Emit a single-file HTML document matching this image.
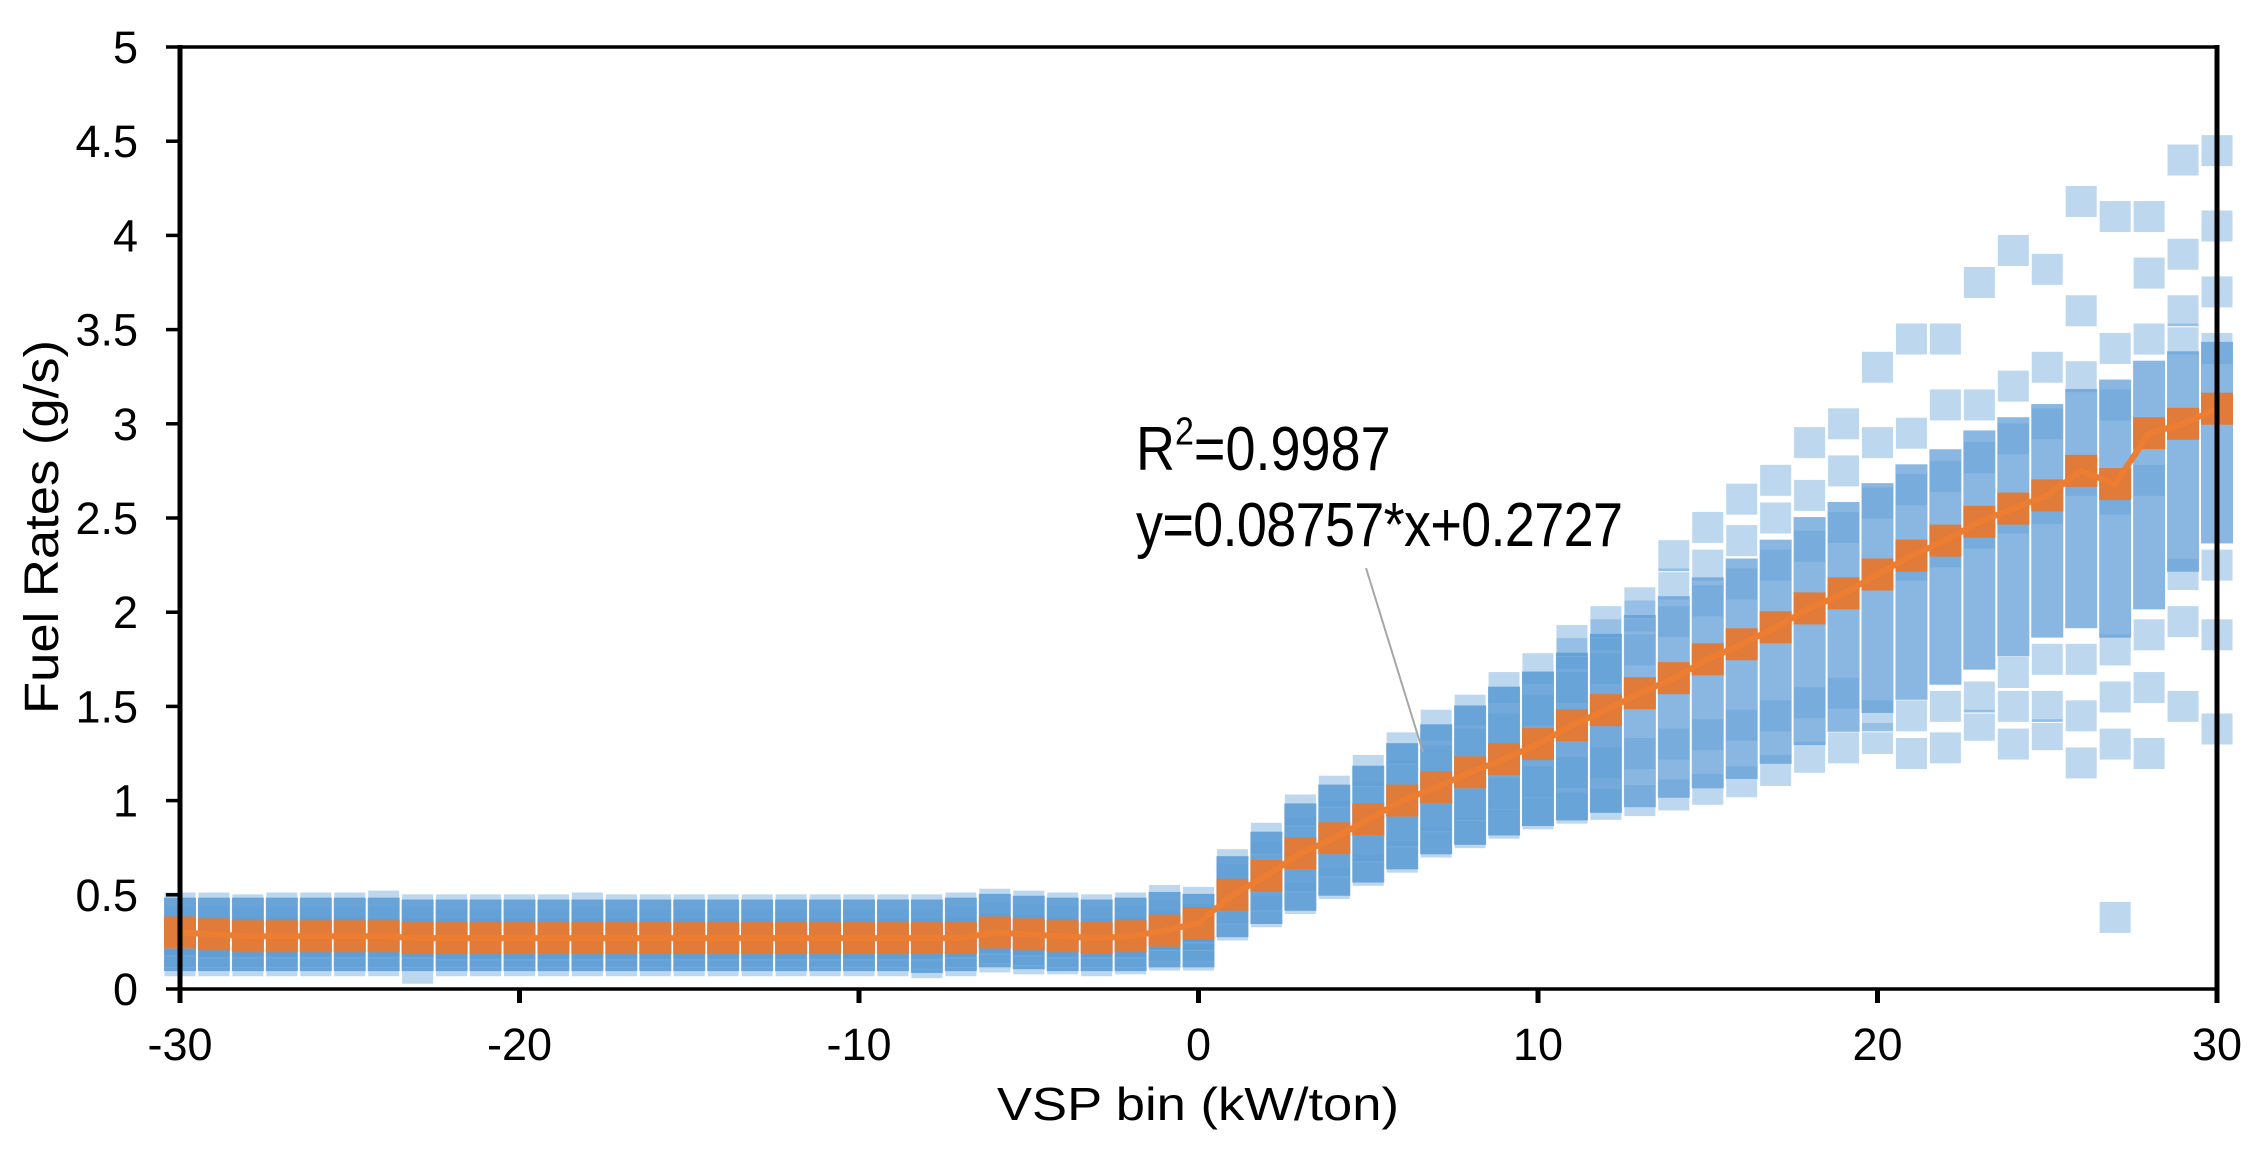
<!DOCTYPE html>
<html><head><meta charset="utf-8"><style>
html,body{margin:0;padding:0;background:#fff;}
svg{display:block;font-family:"Liberation Sans",Arial,sans-serif;}
</style></head><body>
<svg id="chart" width="2266" height="1152" viewBox="0 0 2266 1152" xmlns="http://www.w3.org/2000/svg">
<g id="blue"></g>
<g id="orange"></g>
<g id="axes"></g>
<g id="ann">
  <line x1="1366" y1="568" x2="1423" y2="752" stroke="#a6a6a6" stroke-width="2"/>
  <g transform="translate(1136,470) scale(1,1.15)">
    <text x="0" y="0" font-size="54" fill="#000">R<tspan font-size="34" dy="-22">2</tspan><tspan dy="22">=0.9987</tspan></text>
  </g>
  <g transform="translate(1136,546) scale(1,1.15)">
    <text x="0" y="0" font-size="54" fill="#000" textLength="487">y=0.08757*x+0.2727</text>
  </g>
</g>
<text transform="translate(58,527) rotate(-90)" text-anchor="middle" font-size="48" textLength="374" lengthAdjust="spacingAndGlyphs">Fuel Rates (g/s)</text>
<text x="1198" y="1120" text-anchor="middle" font-size="46" textLength="402" lengthAdjust="spacingAndGlyphs">VSP bin (kW/ton)</text>
</svg>
<script>
const bins = [-30,-29,-28,-27,-26,-25,-24,-23,-22,-21,-20,-19,-18,-17,-16,-15,-14,-13,-12,-11,-10,-9,-8,-7,-6,-5,-4,-3,-2,-1,0,1,2,3,4,5,6,7,8,9,10,11,12,13,14,15,16,17,18,19,20,21,22,23,24,25,26,27,28,29,30];
const meanRates = [0.30,0.29,0.28,0.28,0.28,0.28,0.28,0.27,0.27,0.27,0.27,0.27,0.27,0.27,0.27,0.27,0.27,0.27,0.27,0.27,0.27,0.27,0.27,0.27,0.30,0.29,0.28,0.27,0.28,0.31,0.35,0.50,0.60,0.72,0.80,0.90,1.00,1.07,1.15,1.22,1.30,1.40,1.48,1.57,1.65,1.75,1.83,1.92,2.02,2.10,2.20,2.30,2.38,2.48,2.55,2.62,2.75,2.68,2.95,3.00,3.08];
const bandLow = [0.18,0.18,0.18,0.18,0.18,0.18,0.18,0.18,0.18,0.18,0.18,0.18,0.18,0.18,0.18,0.18,0.18,0.18,0.18,0.18,0.18,0.18,0.17,0.18,0.2,0.19,0.18,0.18,0.18,0.2,0.2,0.36,0.43,0.5,0.58,0.65,0.72,0.8,0.85,0.9,0.95,0.98,1.02,1.05,1.1,1.15,1.2,1.28,1.38,1.45,1.55,1.62,1.7,1.78,1.85,1.95,2.0,1.95,2.1,2.3,2.45];
const bandHigh = [0.4,0.4,0.4,0.4,0.4,0.4,0.4,0.39,0.39,0.39,0.39,0.39,0.39,0.39,0.39,0.39,0.39,0.39,0.39,0.39,0.39,0.39,0.39,0.4,0.42,0.41,0.4,0.39,0.4,0.43,0.42,0.62,0.75,0.9,1.0,1.1,1.22,1.32,1.42,1.52,1.6,1.7,1.8,1.9,2.0,2.1,2.2,2.3,2.42,2.5,2.6,2.7,2.78,2.88,2.95,3.02,3.1,3.15,3.25,3.3,3.35];
const observedRates = [
[0.15,0.2,0.26,0.3,0.35,0.43],[0.15,0.2,0.25,0.3,0.36,0.43],[0.15,0.2,0.25,0.3,0.35,0.42],
[0.15,0.2,0.25,0.3,0.35,0.43],[0.15,0.2,0.25,0.3,0.35,0.43],[0.15,0.2,0.25,0.3,0.35,0.43],
[0.15,0.2,0.25,0.29,0.35,0.44],[0.11,0.2,0.25,0.29,0.35,0.42],[0.15,0.2,0.24,0.29,0.34,0.42],
[0.15,0.2,0.24,0.29,0.34,0.42],[0.15,0.2,0.24,0.29,0.34,0.42],[0.15,0.2,0.24,0.29,0.34,0.42],
[0.15,0.2,0.24,0.29,0.35,0.43],[0.15,0.2,0.24,0.29,0.34,0.42],[0.15,0.2,0.24,0.29,0.34,0.42],
[0.15,0.2,0.24,0.29,0.34,0.42],[0.15,0.2,0.24,0.29,0.34,0.42],[0.15,0.2,0.24,0.29,0.34,0.42],
[0.15,0.2,0.24,0.29,0.34,0.42],[0.15,0.2,0.24,0.29,0.34,0.42],[0.15,0.2,0.24,0.29,0.34,0.42],
[0.15,0.2,0.24,0.29,0.34,0.42],[0.14,0.19,0.24,0.29,0.34,0.42],[0.15,0.2,0.25,0.3,0.35,0.43],
[0.17,0.22,0.27,0.32,0.38,0.45],[0.16,0.21,0.26,0.31,0.37,0.44],[0.16,0.2,0.25,0.3,0.36,0.43],
[0.15,0.2,0.25,0.29,0.35,0.42],[0.16,0.2,0.25,0.3,0.36,0.43],[0.18,0.23,0.29,0.33,0.39,0.47],
[0.18,0.23,0.29,0.33,0.37,0.46],
[0.34,0.43,0.5,0.58,0.66],[0.41,0.5,0.6,0.7,0.8],[0.48,0.6,0.72,0.83,0.95],
[0.56,0.68,0.8,0.92,1.05],[0.63,0.76,0.9,1.02,1.16],[0.7,0.84,1.0,1.13,1.28],
[0.78,0.92,1.07,1.21,1.4],[0.83,0.98,1.15,1.3,1.48],[0.88,1.04,1.22,1.38,1.6],
[0.93,1.1,1.3,1.48,1.7],[0.96,1.15,1.4,1.6,1.78,1.85],[0.98,1.2,1.48,1.7,1.88,1.95],
[1.0,1.25,1.57,1.8,1.98,2.05],[1.03,1.3,1.65,1.95,2.15,2.3],[1.06,1.35,1.75,2.06,2.25,2.45],
[1.1,1.4,1.83,2.15,2.38,2.6],[1.16,1.45,1.92,2.25,2.5,2.7],[1.23,1.52,2.02,2.35,2.62,2.9],
[1.28,1.57,2.1,2.45,2.75,3.0],[1.33,1.45,2.2,2.58,2.9,3.3],[1.25,1.45,2.25,2.65,2.95,3.45],
[1.28,1.5,2.32,2.72,3.1,3.45],[1.4,1.55,2.42,2.82,3.1,3.75],[1.3,1.5,1.68,2.5,2.92,3.2,3.92],
[1.35,1.5,1.75,2.55,3.0,3.3,3.82],[1.2,1.45,1.75,2.7,3.25,3.6,4.18],[0.38,1.3,1.55,1.8,2.6,3.1,3.4,4.1],
[1.25,1.6,1.88,2.7,3.45,3.8,4.1],[1.5,1.95,2.2,3.45,3.6,3.9,4.4],[1.38,1.88,2.25,3.4,3.7,4.05,4.45]
];
const yTicks = [0,0.5,1,1.5,2,2.5,3,3.5,4,4.5,5];
const yTickLabels = ["0","0.5","1","1.5","2","2.5","3","3.5","4","4.5","5"];
const xTicks = [-30,-20,-10,0,10,20,30];
const xTickLabels = ["-30","-20","-10","0","10","20","30"];

const L=180,R=2217,T=47,B=989;
const xs = v => L + (v+30)/60*(R-L);
const ys = v => B - v/5*(B-T);
const NS="http://www.w3.org/2000/svg";
function mk(tag, parent, attrs){const e=document.createElementNS(NS,tag);for(const k in attrs)e.setAttribute(k,attrs[k]);parent.appendChild(e);return e;}
const MW=32, MH=32;
const blue=document.getElementById('blue');
bins.forEach((b,i)=>{
  observedRates[i].forEach(v=>{
    const r=mk('rect',blue,{x:xs(b)-MW/2,y:ys(v)-MH/2,width:MW,height:MH,fill:'#5b9bd5','fill-opacity':0.4,stroke:'#fff','stroke-width':1});
    
    
  });
});
bins.forEach((b,i)=>{
  const top=ys(bandHigh[i])-MH/2, bot=ys(bandLow[i])+MH/2;
  const r=mk('rect',blue,{x:xs(b)-MW/2,y:top,width:MW,height:bot-top,fill:'#5b9bd5','fill-opacity':b>12?0.72:0.85});
  
  
});
const orange=document.getElementById('orange');
bins.forEach((b,i)=>{
  const r=mk('rect',orange,{x:xs(b)-MW/2,y:ys(meanRates[i])-MH/2,width:MW,height:MH,fill:'#e07b39'});
  
  
});
const pl=mk('polyline',orange,{points:bins.map((b,i)=>xs(b)+','+ys(meanRates[i])).join(' '),fill:'none',stroke:'#ed7d31','stroke-width':6,'stroke-linejoin':'round'});



const ax=document.getElementById('axes');
const fr=mk('path',ax,{d:`M${L} ${T}H${R}M${L} ${B}H${R}`,stroke:'#000','stroke-width':3.5,fill:'none'});


const ya=mk('line',ax,{x1:L,y1:T-2,x2:L,y2:B+7,stroke:'#000','stroke-width':5});


const ra=mk('line',ax,{x1:R,y1:T-2,x2:R,y2:B+7,stroke:'#000','stroke-width':5});


yTicks.forEach((v,i)=>{
  const t=mk('line',ax,{x1:L-14,y1:ys(v),x2:L,y2:ys(v),stroke:'#000','stroke-width':3.5});
  
  
  const l=mk('text',ax,{x:138,y:ys(v)+16,'text-anchor':'end','font-size':45,fill:'#000'});
  l.textContent=yTickLabels[i];
  
  
});
xTicks.forEach((v,i)=>{
  const t=mk('line',ax,{x1:xs(v),y1:B,x2:xs(v),y2:B+14,stroke:'#000','stroke-width':5});
  
  
  const l=mk('text',ax,{x:xs(v),y:1060,'text-anchor':'middle','font-size':45,fill:'#000'});
  l.textContent=xTickLabels[i];
  
  
});
</script>
</body></html>
